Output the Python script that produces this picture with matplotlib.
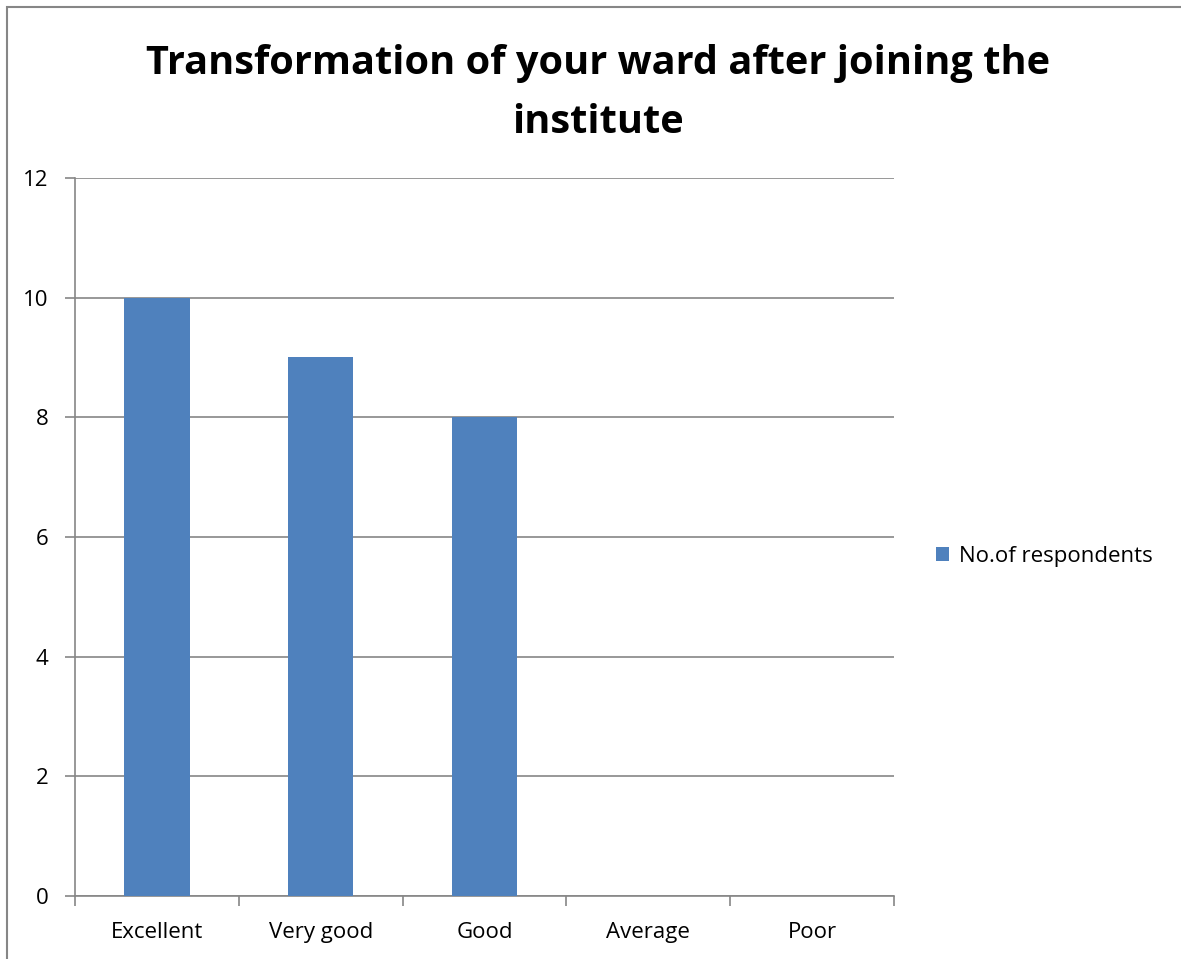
import matplotlib
matplotlib.use("Agg")
import matplotlib.pyplot as plt
from matplotlib.patches import Rectangle

categories = ["Excellent", "Very good", "Good", "Average", "Poor"]
respondents = [10, 9, 8, 0, 0]
yticks = [0, 2, 4, 6, 8, 10, 12]

BAR = "#4F81BD"
GRID = "#868686"

plt.rcParams["font.family"] = ["Open Sans", "DejaVu Sans"]

fig = plt.figure(figsize=(11.81, 9.59), dpi=100)
ax = fig.add_axes([0.0635, 0.0657, 0.6935, 0.7487])

x = range(len(categories))
ax.bar(x, respondents, width=0.4, color=BAR, label="No.of respondents", zorder=3)

ax.set_xlim(-0.5, len(categories) - 0.5)
ax.set_ylim(0, 12)
ax.set_yticks(yticks)
ax.set_yticklabels([str(t) for t in yticks], fontsize=16)
ax.set_xticks([i - 0.5 for i in range(len(categories) + 1)])
ax.set_xticklabels([])
ax.set_xticks(list(x), minor=True)
ax.set_xticklabels(categories, minor=True, fontsize=16)
ax.tick_params(axis="x", which="minor", length=0, pad=19)
ax.tick_params(axis="x", which="major", length=7, color=GRID, width=1.2)
ax.tick_params(axis="y", length=7, color=GRID, width=1.2, pad=12)

ax.grid(axis="y", color=GRID, linewidth=1.2, zorder=0)
for side in ["top", "right"]:
    ax.spines[side].set_visible(False)
for side in ["left", "bottom"]:
    ax.spines[side].set_color(GRID)
    ax.spines[side].set_linewidth(1.2)

fig.text(0.506, 0.903, "Transformation of your ward after joining the\ninstitute",
         ha="center", va="center", fontsize=28.6, fontweight="bold", linespacing=1.68)

ax.legend(loc="center left", bbox_to_anchor=(1.027, 0.4735), frameon=False,
          fontsize=16, handlelength=0.6, handleheight=0.6, handletextpad=0.45)

# outer chart border (partially cropped in original)
fig.patches.append(Rectangle((0.006, -0.05), 1.1, 1.043, transform=fig.transFigure,
                             fill=False, edgecolor=GRID, linewidth=1.5))

fig.savefig("out.png", dpi=100)
